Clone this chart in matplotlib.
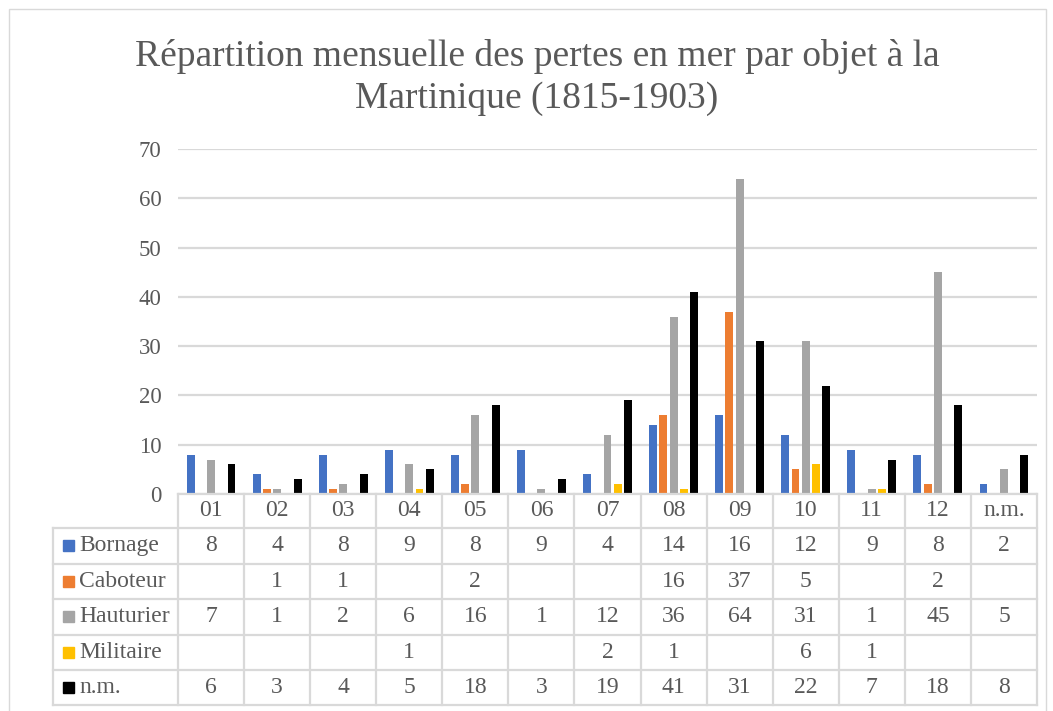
import matplotlib.pyplot as plt
from matplotlib.patches import Rectangle
import numpy as np

plt.rcParams['font.family'] = ['Liberation Serif', 'DejaVu Serif']

months = ['01', '02', '03', '04', '05', '06', '07', '08', '09', '10', '11', '12', 'n.m.']
series = ['Bornage', 'Caboteur', 'Hauturier', 'Militaire', 'n.m.']
bornage = [8, 4, 8, 9, 8, 9, 4, 14, 16, 12, 9, 8, 2]
caboteur = [None, 1, 1, None, 2, None, None, 16, 37, 5, None, 2, None]
hauturier = [7, 1, 2, 6, 16, 1, 12, 36, 64, 31, 1, 45, 5]
militaire = [None, None, None, 1, None, None, 2, 1, None, 6, 1, None, None]
nm = [6, 3, 4, 5, 18, 3, 19, 41, 31, 22, 7, 18, 8]
colors = ['#4472C4', '#ED7D31', '#A5A5A5', '#FFC000', '#000000']

values = [bornage, caboteur, hauturier, militaire, nm]
txt = '#595959'
grid = '#D9D9D9'

W, H = 1053, 711
fig = plt.figure(figsize=(W / 100, H / 100), dpi=100)

def px(x0, y0, x1, y1):
    return [x0 / W, 1 - y1 / H, (x1 - x0) / W, (y1 - y0) / H]

# outer chart frame
fig.patches.append(Rectangle((9 / W, -0.02), (1046 - 9) / W, 1 - 9 / H + 0.02,
                             transform=fig.transFigure, fill=False, edgecolor=grid, lw=1))

fig.text(0.510, 1 - 56 / H, 'Répartition mensuelle des pertes en mer par objet à la',
         ha='center', va='center', fontsize=27, color=txt)
fig.text(0.510, 1 - 99 / H, 'Martinique (1815-1903)',
         ha='center', va='center', fontsize=27, color=txt)

ax = fig.add_axes(px(178, 149, 1037, 494))
x = np.arange(len(months))
bw = 0.12
step = 0.155
for i, (name, vals) in enumerate(zip(series, values)):
    v = [0 if a is None else a for a in vals]
    ax.bar(x + 0.5 + (i - 2) * step, v, width=bw, color=colors[i], zorder=3)

ax.set_xlim(0, len(months))
ax.set_ylim(0, 70)
ax.set_yticks(range(0, 71, 10))
ax.yaxis.grid(True, color=grid, lw=1.6, zorder=0)
ax.tick_params(axis='y', length=0, labelsize=16.5, labelcolor=txt, pad=12)
ax.set_xticks([])
for s in ['top', 'right', 'left', 'bottom']:
    ax.spines[s].set_visible(False)

# data table
tb = fig.add_axes(px(53, 494, 1037, 706))
left = -125 / 66.08
tb.set_xlim(left, len(months))
tb.set_ylim(212, 0)
tb.axis('off')
rows = [0, 34, 69.5, 105, 140.5, 176, 211]
lc = dict(color=grid, lw=1.6, clip_on=False)
# horizontal lines
tb.plot([0, len(months)], [0, 0], **lc)
for r in rows[1:]:
    tb.plot([left, len(months)], [r, r], **lc)
# vertical lines
tb.plot([left, left], [rows[1], rows[-1]], **lc)
for c in range(len(months) + 1):
    tb.plot([c, c], [0, rows[-1]], **lc)
for j, m in enumerate(months):
    tb.text(j + 0.5, 17, m, ha='center', va='center', fontsize=17, color=txt)
for i, (name, vals) in enumerate(zip(series, values)):
    yc = (rows[i + 1] + rows[i + 2]) / 2
    tb.add_patch(Rectangle((left + 10 / 66.08, yc - 5.5), 11 / 66.08, 11, color=colors[i]))
    tb.text(left + 26 / 66.08, yc, name, ha='left', va='center', fontsize=17, color=txt)
    for j, v in enumerate(vals):
        if v is not None:
            tb.text(j + 0.5, yc, str(v), ha='center', va='center', fontsize=17, color=txt)

fig.savefig('out.png', dpi=100)
